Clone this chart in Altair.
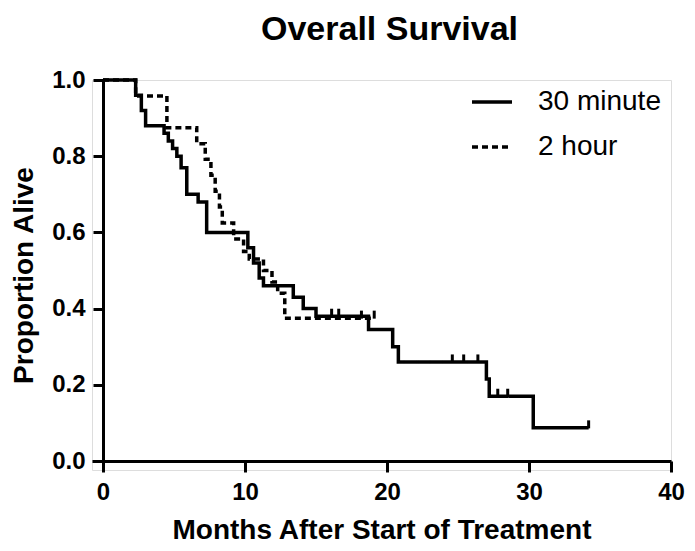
import altair as alt
import pandas as pd

# 30 minute arm (solid): step times (months) and survival after each step
solid_t = [0, 2.3, 2.7, 3.0, 4.3, 4.6, 4.9, 5.2, 5.5, 5.9, 6.7, 7.3, 10.2, 10.6, 11.0, 11.3,
           13.4, 14.1, 15.0, 18.7, 20.4, 20.8, 27.0, 27.2, 30.3, 34.2]
solid_s = [1.0, 0.96, 0.92, 0.88, 0.86, 0.84, 0.82, 0.80, 0.77, 0.70, 0.68, 0.60, 0.56, 0.52, 0.48, 0.46,
           0.43, 0.40, 0.38, 0.345, 0.30, 0.26, 0.215, 0.17, 0.087, 0.087]
solid_cens_t = [16.1, 16.6, 24.6, 25.4, 26.4, 27.8, 28.5, 34.2]
solid_cens_s = [0.38, 0.38, 0.26, 0.26, 0.26, 0.17, 0.17, 0.087]

# 2 hour arm (dashed)
dash_t = [0, 2.3, 4.5, 6.6, 7.2, 7.6, 7.9, 8.2, 8.4, 9.2, 9.9, 10.3, 11.3, 11.9, 12.3, 12.8, 19.1]
dash_s = [1.0, 0.958, 0.875, 0.833, 0.792, 0.75, 0.708, 0.667, 0.625, 0.583, 0.55, 0.53, 0.50, 0.47,
          0.44, 0.375, 0.375]
dash_cens_t = [18.2, 19.1]
dash_cens_s = [0.375, 0.375]

groups = ["30 minute", "2 hour"]
x_ticks = [0, 10, 20, 30, 40]
y_ticks = [0.0, 0.2, 0.4, 0.6, 0.8, 1.0]

curves = pd.concat([
    pd.DataFrame({"t": solid_t, "s": solid_s, "g": groups[0]}),
    pd.DataFrame({"t": dash_t, "s": dash_s, "g": groups[1]}),
])
cens = pd.concat([
    pd.DataFrame({"t": solid_cens_t, "s": solid_cens_s, "g": groups[0]}),
    pd.DataFrame({"t": dash_cens_t, "s": dash_cens_s, "g": groups[1]}),
])

FONT = "Liberation Sans"

xscale = alt.Scale(domain=[-0.775, 40], nice=False, zero=False)
yscale = alt.Scale(domain=[-0.0236, 1.0], nice=False, zero=False)

xaxis = alt.Axis(values=x_ticks, format="d", title="Months After Start of Treatment",
                 offset=-9, grid=False, domainColor="black", domainWidth=3,
                 tickColor="black", tickWidth=3, tickSize=11, labelPadding=8, labelFlush=False,
                 labelFont=FONT, labelFontSize=24, labelFontWeight="bold", labelColor="black",
                 titleFont=FONT, titleFontSize=28, titleFontWeight="bold", titleColor="black",
                 titlePadding=12)
yaxis = alt.Axis(values=y_ticks, format=".1f", title="Proportion Alive",
                 offset=-11, grid=False, domainColor="black", domainWidth=3,
                 tickColor="black", tickWidth=3, tickSize=10, labelPadding=8, labelFlush=False,
                 labelFont=FONT, labelFontSize=24, labelFontWeight="bold", labelColor="black",
                 titleFont=FONT, titleFontSize=28, titleFontWeight="bold", titleColor="black",
                 titlePadding=13)

dash_scale = alt.Scale(domain=groups, range=[[1, 0], [6, 4]])

lines = alt.Chart(curves).mark_line(interpolate="step-after", color="black", strokeWidth=3.5).encode(
    x=alt.X("t:Q", scale=xscale, axis=xaxis),
    y=alt.Y("s:Q", scale=yscale, axis=yaxis),
    strokeDash=alt.StrokeDash("g:N", scale=dash_scale, sort=groups,
                              legend=alt.Legend(title=None, orient="none", legendX=378, legendY=0,
                                                symbolType="stroke", symbolSize=1600,
                                                symbolStrokeWidth=3.5, symbolStrokeColor="black",
                                                labelFont=FONT, labelFontSize=28, labelColor="black",
                                                labelOffset=24, rowPadding=9)),
)

ticks = alt.Chart(cens).mark_tick(orient="vertical", color="black", opacity=1, size=8,
                                  thickness=3, yOffset=-3.5).encode(
    x=alt.X("t:Q", scale=xscale),
    y=alt.Y("s:Q", scale=yscale),
)

chart = alt.layer(lines, ticks).properties(
    width=579, height=390,
    title=alt.TitleParams("Overall Survival", font=FONT, fontSize=34, fontWeight="bold",
                          color="black", anchor="middle", dx=8, offset=21),
    autosize=alt.AutoSizeParams(type="none"),
    padding={"left": 84, "top": 72, "right": 16, "bottom": 73},
).configure_view(stroke=None).configure(background="white")

chart.save("out.html", embed_options={"renderer": "svg", "actions": False})
